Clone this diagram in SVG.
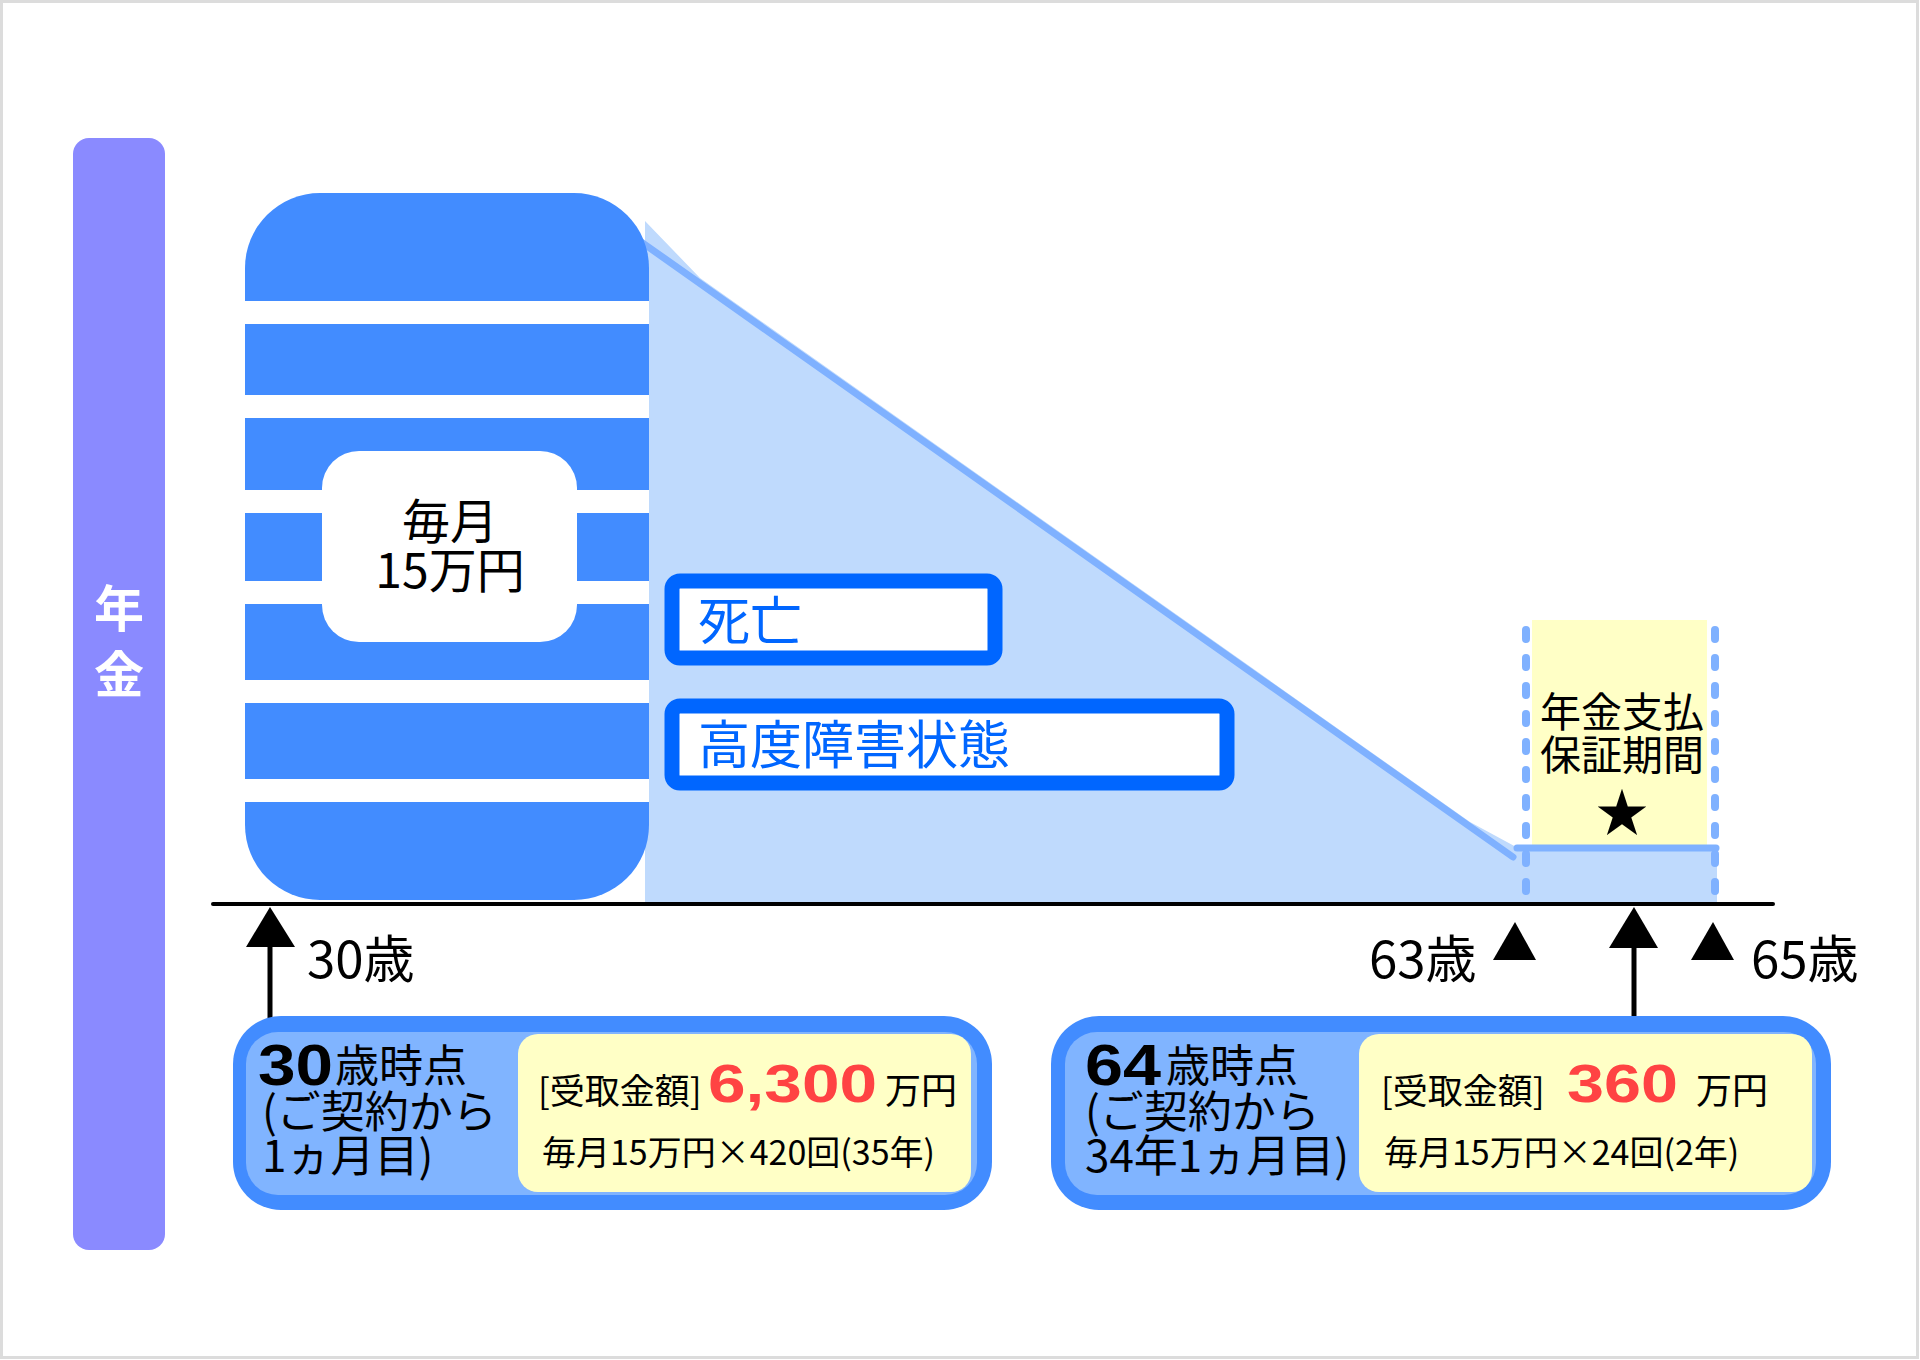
<svg xmlns="http://www.w3.org/2000/svg" width="1920" height="1360" viewBox="0 0 1920 1360">
<style>
.jp{font-family:"Noto Sans CJK JP","Noto Sans",sans-serif;}
.blk{fill:#000;}
.num{font-family:"Liberation Sans",Arial,sans-serif;font-weight:bold;}
.red{fill:#FF4343;}
.stripe{fill:#fff;}
.dash{stroke:#7FB1FF;stroke-width:8;stroke-linecap:round;stroke-dasharray:9 19;fill:none;}
.cond{stroke:#0066FF;stroke-width:15;fill:#fff;}
.ct{fill:#0066FF;font-size:52px;}
.outer{fill:#428CFF;}
.inner{fill:#80B4FF;}
.yel{fill:#FFFFC6;}
</style>
<rect x="1.5" y="1.5" width="1916" height="1356" fill="#fff" stroke="#dcdcdc" stroke-width="3"/>

<g id="axis-label">
<rect x="73" y="138" width="92" height="1112" rx="16" fill="#8A8AFF"/>
<text class="jp" x="119" y="627" font-size="50" font-weight="bold" fill="#fff" text-anchor="middle">年</text>
<text class="jp" x="119" y="693" font-size="50" font-weight="bold" fill="#fff" text-anchor="middle">金</text>
</g>

<g id="decline-area">
<polygon points="645,221 700,278 1470,822 1518,848 1717,848 1717,902 645,902" fill="#BFDAFD"/>
<line x1="637" y1="239" x2="1513" y2="857" stroke="#7FB1FF" stroke-width="7" stroke-linecap="round"/>
</g>

<g id="monthly-block">
<rect x="245" y="193" width="404" height="707" rx="75" fill="#428CFF"/>
<rect class="stripe" x="245" y="301" width="404" height="23"/>
<rect class="stripe" x="245" y="395" width="404" height="23"/>
<rect class="stripe" x="245" y="490" width="404" height="23"/>
<rect class="stripe" x="245" y="581" width="404" height="23"/>
<rect class="stripe" x="245" y="680" width="404" height="23"/>
<rect class="stripe" x="245" y="779" width="404" height="23"/>
<rect x="322" y="451" width="255" height="191" rx="37" fill="#fff"/>
<text class="jp blk" x="450" y="539" font-size="48" text-anchor="middle">毎月</text>
<text class="jp blk" x="450" y="588" font-size="48" text-anchor="middle">15万円</text>
</g>

<g id="cond-death">
<rect class="cond" x="672" y="581" width="323" height="77" rx="8"/>
<text class="jp ct" x="698" y="640">死亡</text>
</g>

<g id="cond-disability">
<rect class="cond" x="672" y="706" width="555" height="77" rx="8"/>
<text class="jp ct" x="698" y="764">高度障害状態</text>
</g>

<g id="guarantee">
<rect class="yel" x="1532" y="620" width="175" height="225"/>
<line class="dash" x1="1526" y1="630" x2="1526" y2="898"/>
<line class="dash" x1="1715" y1="630" x2="1715" y2="898"/>
<line x1="1517" y1="848" x2="1716" y2="848" stroke="#7FB1FF" stroke-width="7" stroke-linecap="round"/>
<text class="jp blk" x="1622" y="727" font-size="41" text-anchor="middle">年金支払</text>
<text class="jp blk" x="1622" y="770" font-size="41" text-anchor="middle">保証期間</text>
<text class="jp blk" x="1622" y="832" font-size="52" text-anchor="middle">★</text>
</g>

<g id="timeline">
<line x1="213" y1="904" x2="1773" y2="904" stroke="#000" stroke-width="4" stroke-linecap="round"/>
<text class="jp blk" x="307" y="978" font-size="51">30歳</text>
<text class="jp blk" x="1369" y="978" font-size="51">63歳</text>
<text class="jp blk" x="1751" y="978" font-size="51">65歳</text>
<polygon points="1515,922 1536,960 1493,960" fill="#000"/>
<polygon points="1713,922 1734,960 1691,960" fill="#000"/>
</g>

<g id="connectors">
<polygon points="270,907 295,947 246,947" fill="#000"/>
<line x1="270" y1="945" x2="270" y2="1018" stroke="#000" stroke-width="5"/>
<polygon points="1634,907 1658,948 1609,948" fill="#000"/>
<line x1="1634" y1="945" x2="1634" y2="1018" stroke="#000" stroke-width="5"/>
</g>

<g id="box-30">
<rect class="outer" x="233" y="1016" width="759" height="194" rx="48"/>
<rect class="inner" x="246" y="1032" width="731" height="163" rx="32"/>
<rect class="yel" x="518" y="1034" width="453" height="158" rx="20"/>
<text class="num blk" x="258" y="1085" font-size="58" textLength="75" lengthAdjust="spacingAndGlyphs">30</text>
<text class="jp blk" x="335" y="1082" font-size="44">歳時点</text>
<text class="jp blk" x="262" y="1128" font-size="44">(ご契約から</text>
<text class="jp blk" x="262" y="1172" font-size="44">1ヵ月目)</text>
<text class="jp blk" x="538" y="1104" font-size="35">[受取金額]</text>
<text class="num red" x="708" y="1102" font-size="54" textLength="169" lengthAdjust="spacingAndGlyphs">6,300</text>
<text class="jp blk" x="885" y="1104" font-size="36">万円</text>
<text class="jp blk" x="542" y="1165" font-size="34">毎月15万円×420回(35年)</text>
</g>

<g id="box-64">
<rect class="outer" x="1051" y="1016" width="780" height="194" rx="48"/>
<rect class="inner" x="1065" y="1032" width="751" height="163" rx="32"/>
<rect class="yel" x="1359" y="1034" width="453" height="158" rx="20"/>
<text class="num blk" x="1085" y="1085" font-size="58" textLength="76" lengthAdjust="spacingAndGlyphs">64</text>
<text class="jp blk" x="1166" y="1082" font-size="44">歳時点</text>
<text class="jp blk" x="1085" y="1128" font-size="44">(ご契約から</text>
<text class="jp blk" x="1085" y="1172" font-size="44">34年1ヵ月目)</text>
<text class="jp blk" x="1381" y="1104" font-size="35">[受取金額]</text>
<text class="num red" x="1567" y="1102" font-size="54" textLength="111" lengthAdjust="spacingAndGlyphs">360</text>
<text class="jp blk" x="1696" y="1104" font-size="36">万円</text>
<text class="jp blk" x="1384" y="1165" font-size="34">毎月15万円×24回(2年)</text>
</g>
</svg>
